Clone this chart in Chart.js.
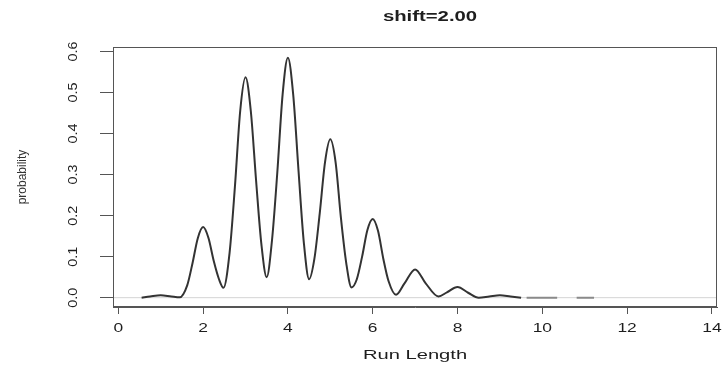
<!DOCTYPE html>
<html>
<head>
<meta charset="utf-8">
<script src="https://cdn.jsdelivr.net/npm/chart.js@4.4.0/dist/chart.umd.min.js"></script>
<style>
  body { margin: 0; background: #fff; }
  #wrap { width: 726px; height: 369px; }
</style>
</head>
<body>
<div id="wrap"><canvas id="runChart" width="726" height="369"></canvas></div>
<script>
// Run length density
const runLength = [0.55, 0.75, 1.0, 1.25, 1.45, 1.625, 1.75, 1.875, 2.0, 2.125, 2.25, 2.375, 2.48,
  2.625, 2.75, 2.875, 3.0, 3.125, 3.25, 3.375, 3.5,
  3.625, 3.75, 3.875, 4.0, 4.125, 4.25, 4.375, 4.5,
  4.625, 4.75, 4.875, 5.0, 5.125, 5.25, 5.375, 5.5,
  5.625, 5.75, 5.875, 6.0, 6.125, 6.25, 6.375, 6.55,
  6.75, 7.0, 7.25, 7.55, 7.75, 8.0, 8.25, 8.5, 8.75, 9.0, 9.25, 9.5];
const probability = [0.0, 0.003, 0.006, 0.003, 0.001, 0.03, 0.084, 0.145, 0.172, 0.146, 0.09, 0.045, 0.024,
  0.11, 0.27, 0.455, 0.537, 0.455, 0.285, 0.13, 0.05,
  0.14, 0.305, 0.495, 0.585, 0.495, 0.31, 0.135, 0.045,
  0.095, 0.205, 0.33, 0.386, 0.33, 0.195, 0.085, 0.025,
  0.045, 0.10, 0.165, 0.192, 0.163, 0.095, 0.04, 0.007,
  0.035, 0.069, 0.035, 0.003, 0.013, 0.026, 0.012, 0.0, 0.003, 0.006, 0.003, 0.0];
// trailing bits of the curve, two short pieces at zero
const tailX = [9.63, 10.35, 10.6, 10.81, 11.22];
const tailY = [0, 0, null, 0, 0];

const xTicks = [0, 2, 4, 6, 8, 10, 12, 14];
const yTicks = [0.0, 0.1, 0.2, 0.3, 0.4, 0.5, 0.6];
const yTickLabels = ["0.0", "0.1", "0.2", "0.3", "0.4", "0.5", "0.6"];
const titleText = "shift=2.00";
const xTitle = "Run Length";
const yTitle = "probability";

const mainCurve = runLength.map((x, i) => ({ x: x, y: probability[i] }));
const tailCurve = tailX.map((x, i) => ({ x: x, y: tailY[i] }));

const FONT = "'Liberation Sans', Arial, sans-serif";

function stretchText(ctx, text, x, y, font, sx, rot) {
  ctx.save();
  ctx.translate(x, y);
  if (rot) ctx.rotate(rot);
  ctx.scale(sx, 1);
  ctx.font = font;
  ctx.textAlign = "center";
  ctx.textBaseline = "middle";
  ctx.fillText(text, 0, 0);
  ctx.restore();
}

const rStyle = {
  id: "rStyle",
  afterDraw(chart) {
    const ctx = chart.ctx;
    const a = chart.chartArea;
    const xs = chart.scales.x;
    const ys = chart.scales.y;
    ctx.save();
    // box round the plot
    ctx.strokeStyle = "#555";
    ctx.lineWidth = 1;
    ctx.strokeRect(a.left + 0.5, a.top + 0.5, a.right - a.left - 1, a.bottom - a.top - 1);
    ctx.fillStyle = "#1e1e1e";
    const cx = (a.left + a.right) / 2;
    stretchText(ctx, titleText, cx + 15, 17, "bold 14px " + FONT, 1.45);
    stretchText(ctx, xTitle, cx, 355, "13px " + FONT, 1.55);
    ctx.fillStyle = "#333";
    stretchText(ctx, yTitle, 23, (a.top + a.bottom) / 2, "12px " + FONT, 1, -Math.PI / 2);
    ctx.fillStyle = "#1e1e1e";
    xTicks.forEach(v => {
      stretchText(ctx, String(v), xs.getPixelForValue(v), 329, "12px " + FONT, 1.45);
    });
    yTicks.forEach((v, i) => {
      stretchText(ctx, yTickLabels[i], 74, ys.getPixelForValue(v), "12px " + FONT, 1.2, -Math.PI / 2);
    });
    ctx.restore();
  }
};

const ctx = document.getElementById("runChart").getContext("2d");
const myChart = new Chart(ctx, {
  type: "line",
  data: {
    datasets: [
      {
        data: mainCurve,
        borderColor: "#333",
        borderWidth: 2,
        pointRadius: 0,
        cubicInterpolationMode: "monotone",
        order: 1,
      },
      {
        data: tailCurve,
        borderColor: "#8a8a8a",
        borderWidth: 2,
        pointRadius: 0,
        spanGaps: false,
        order: 1,
      },
      {
        data: [{ x: -0.125, y: 0 }, { x: 14.12, y: 0 }],
        borderColor: "#d4d4d4",
        borderWidth: 1,
        pointRadius: 0,
        order: 2,
      },
    ],
  },
  options: {
    responsive: false,
    animation: false,
    layout: { padding: { left: 0, right: 9, top: 47, bottom: 0 } },
    plugins: { legend: { display: false }, tooltip: { enabled: false } },
    scales: {
      x: {
        type: "linear",
        min: -0.125,
        max: 14.12,
        afterBuildTicks: s => { s.ticks = xTicks.map(v => ({ value: v })); },
        afterFit: s => { s.height = 62; },
        ticks: { display: false },
        grid: { drawOnChartArea: false, drawTicks: true, tickLength: 7, color: "#555" },
        border: { display: true, color: "#555" },
      },
      y: {
        min: -0.0227,
        max: 0.611,
        afterBuildTicks: s => { s.ticks = yTicks.map(v => ({ value: v })); },
        afterFit: s => { s.width = 113; },
        ticks: { display: false },
        grid: { drawOnChartArea: false, drawTicks: true, tickLength: 13, color: "#555" },
        border: { display: true, color: "#555" },
      },
    },
  },
  plugins: [rStyle],
});
</script>
</body>
</html>
